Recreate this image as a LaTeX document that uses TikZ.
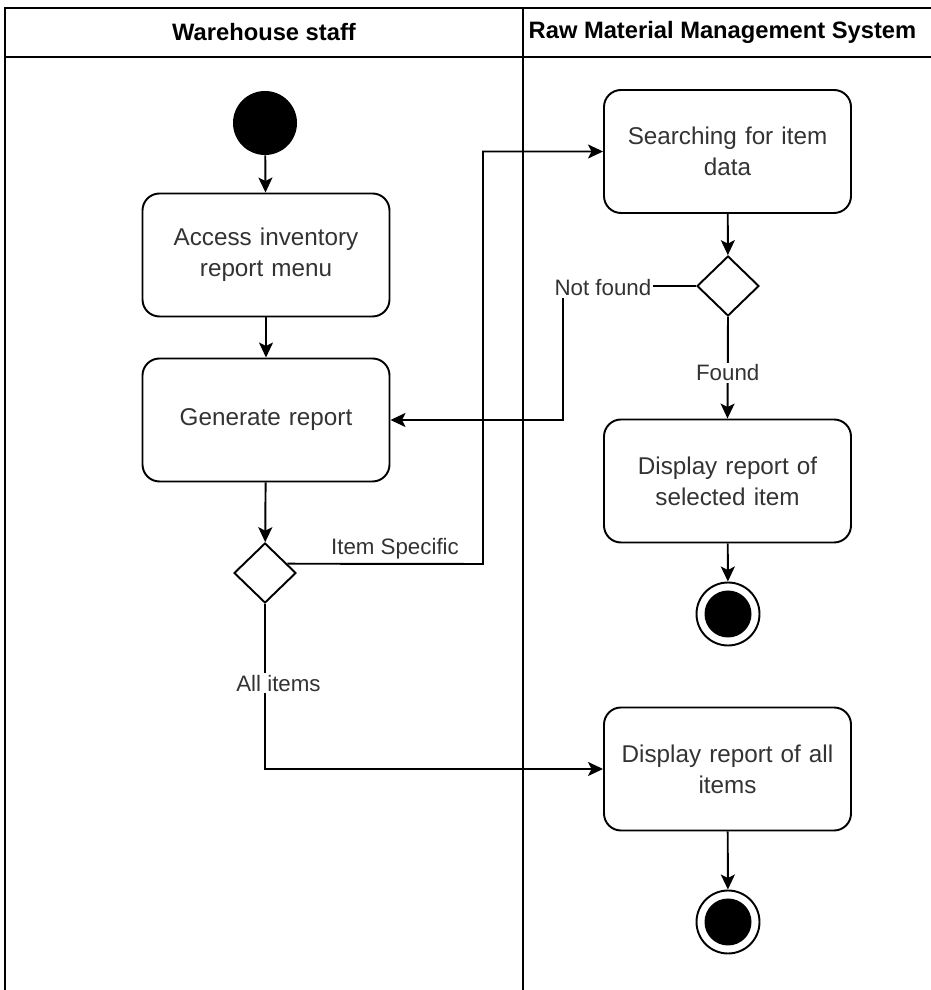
\documentclass[tikz,border=0pt]{standalone}
\usepackage{fontspec}
\setmainfont{Liberation Sans}
\usepackage{xcolor}
\usetikzlibrary{arrows.meta,positioning,shapes.geometric,calc}
\definecolor{ActText}{HTML}{333333}

\begin{document}
\begin{tikzpicture}[
  x=1cm,y=1cm,
  lane/.style={line width=1.1pt,color=black},
  lanehead/.style={font=\fontsize{13.5}{16}\selectfont\bfseries,text=black},
  action/.style={rounded corners=0.34cm,draw,line width=1.1pt,fill=white,
    minimum width=4.94cm,minimum height=2.46cm,text width=4.7cm,align=center,
    font=\fontsize{13.8}{17.5}\selectfont,text=ActText},
  decision/.style={diamond,draw,line width=1.1pt,fill=white,aspect=1,
    minimum width=1.24cm,minimum height=1.2cm,inner sep=0pt},
  initial/.style={circle,fill=black,minimum size=1.28cm,inner sep=0pt},
  final/.style={circle,draw,line width=1.1pt,fill=white,minimum size=1.26cm,inner sep=0pt,
    path picture={\fill[black] (path picture bounding box.center) circle (0.47cm);}},
  lbl/.style={font=\fontsize{12.7}{15}\selectfont,text=ActText,fill=white,inner sep=1pt},
  arrow/.style={-{Stealth[length=0.3cm,width=0.28cm,inset=0.07cm]},line width=1.1pt}
]
  \useasboundingbox (0,0) rectangle (18.62,19.8);

  % swimlanes
  \draw[lane] (0.1,0) -- (0.1,19.64) -- (18.62,19.64);
  \draw[lane] (0.1,18.66) -- (18.62,18.66);
  \draw[lane] (10.46,0) -- (10.46,19.64);
  \node[lanehead] (staff) at (5.28,19.15) {Warehouse staff};
  \node[lanehead] (system) at (14.45,19.15) {Raw Material Management System};

  \node[initial] (start) at (5.30,17.34) {};
  \node[action] (access) at (5.32,14.70) {Access inventory\\report menu};
  \node[action] (generate) at (5.32,11.40) {Generate report};
  \node[decision] (d1) at (5.30,8.34) {};

  \node[action] (search) at (14.55,16.77) {Searching for item\\data};
  \node[decision] (d2) at (14.56,14.08) {};
  \node[action] (selected) at (14.55,10.18) {Display report of\\selected item};
  \node[final] (end1) at (14.56,7.52) {};
  \node[action] (all) at (14.55,4.42) {Display report of all\\items};
  \node[final] (end2) at (14.56,1.36) {};

  \coordinate (d1out) at ($(d1.east)!0.3!(d1.north)$);
  \coordinate (itemturn) at (9.66,8.52);
  \coordinate (nfturn) at (11.26,14.08);

  \draw[arrow] (start) -- (access);
  \draw[arrow] (access) -- (generate);
  \draw[arrow] (generate) -- (d1);
  \draw[arrow] (d1out) -- node[lbl,above=1pt,fill=none,pos=0.55]{Item Specific} (itemturn) |- (search.west);
  \draw[arrow] (d1.south) |- node[lbl,pos=0.24,xshift=0.27cm]{All items} (all.west);
  \draw[arrow] (search) -- (d2);
  \draw[arrow] (d2.west) -- node[lbl,pos=0.70,yshift=-0.04cm]{Not found} (nfturn) |- (generate.east);
  \draw[arrow] (d2.south) -- node[lbl,pos=0.55]{Found} (selected.north);
  \draw[arrow] (selected) -- (end1);
  \draw[arrow] (all) -- (end2);
\end{tikzpicture}
\end{document}
